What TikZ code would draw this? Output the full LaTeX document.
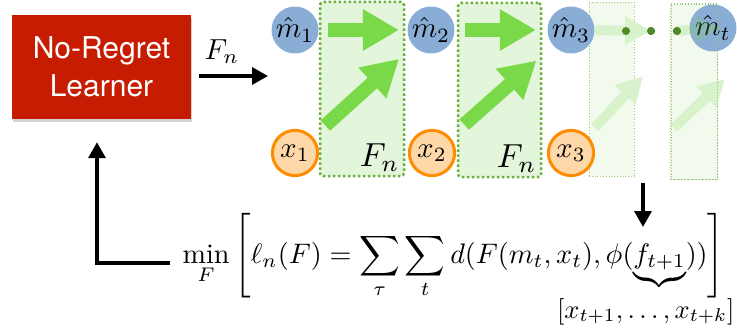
\documentclass[tikz,border=0pt]{standalone}
\usepackage{amsmath,amssymb}
\usepackage{fontspec}
\newfontfamily\learnerfont{TeX Gyre Heros}
\usepackage{xcolor}
\usepackage{tikz}
\usetikzlibrary{arrows.meta, positioning, shadows, calc}

\definecolor{learnerred}{RGB}{198,28,2}
\definecolor{estblue}{RGB}{138,173,214}
\definecolor{obsorange}{RGB}{255,140,0}
\definecolor{obsfill}{RGB}{254,216,168}
\definecolor{policygreen}{RGB}{122,217,72}
\definecolor{fadedgreen}{RGB}{216,242,203}
\definecolor{boxgreen}{RGB}{227,245,218}
\definecolor{bordergreen}{RGB}{106,176,60}
\definecolor{dotgreen}{RGB}{78,138,40}

\begin{document}
\begin{tikzpicture}[x=1pt, y=-1pt,
    learner/.style={fill=learnerred, rectangle, minimum width=179pt, minimum height=104pt, align=center, text=white, font=\learnerfont\fontsize{30}{38}\selectfont, drop shadow={shadow xshift=1pt, shadow yshift=-3pt, opacity=0.35}},
    est/.style={circle, fill=estblue, minimum size=16.2pt, inner sep=0pt, scale=2.9},
    obs/.style={circle, draw=obsorange, line width=3pt, fill=obsfill, minimum size=15.6pt, inner sep=0pt, scale=2.9},
    policy/.style={rectangle, rounded corners=3pt, fill=boxgreen, draw=bordergreen, line width=2.5pt, dash pattern=on 2.5pt off 2.5pt, minimum width=84pt, minimum height=174pt},
    ghost/.style={rectangle, fill=boxgreen, fill opacity=0.5, draw=bordergreen!70, line width=0.8pt, dotted, minimum width=45pt, minimum height=174pt},
    ghostborder/.style={draw=bordergreen!70, line width=0.8pt, dotted},
    fat/.style={draw=policygreen, line width=14pt, -{Triangle[length=36pt, width=39pt]}},
    faint/.style={draw=fadedgreen, line width=10pt, -{Triangle[length=26pt, width=27pt]}},
    blackarrow/.style={draw, line width=3.5pt, -{Triangle[length=16pt, width=17pt]}},
    ellipsisdot/.style={circle, fill=dotgreen, inner sep=0pt, minimum size=8pt},
    mathlabel/.style={scale=2.9, inner sep=0pt}
]
    \useasboundingbox (0,0) rectangle (737,329);

    % policy windows
    \node[ghost] (ghost3) at (611.5,89) {};
    \node[ghost, minimum width=46pt, minimum height=175pt] (ghost4) at (694,91.5) {};
    \node[policy] (pol1) at (362,89) {};
    \node[policy, minimum width=83pt] (pol2) at (499.5,90) {};

    \node[learner] (learner) at (101.5,67) {No-Regret\\Learner};

    % states and observations
    \node[est] (m1) at (295,30) {$\hat{m}_1$};
    \node[est] (m2) at (431,30) {$\hat{m}_2$};
    \node[est] (m3) at (571,30) {$\hat{m}_3$};
    \node[est] (mt) at (713,28) {$\hat{m}_t$};
    \node[obs] (x1) at (295,153) {$x_1$};
    \node[obs] (x2) at (432,153) {$x_2$};
    \node[obs] (x3) at (571,153) {$x_3$};

    \draw[fat, shorten <=9pt, shorten >=8pt] (m1) -- (m2);
    \draw[fat, shorten <=14pt, shorten >=19pt] (x1) -- (m2);
    \draw[fat, shorten <=10pt, shorten >=11pt] (m2) -- (m3);
    \draw[fat, shorten <=16pt, shorten >=22pt] (x2) -- (m3);

    \node[mathlabel, scale=1.15, anchor=south east] (fn1) at ([xshift=-5pt, yshift=5pt]pol1.south east) {$F_n$};
    \node[mathlabel, scale=1.15, anchor=south east] (fn2) at ([xshift=-5pt, yshift=5pt]pol2.south east) {$F_n$};

    % fading steps
    \node[ellipsisdot] (dot1) at (626,31) {};
    \node[ellipsisdot] (dot2) at (651,31) {};
    \node[ellipsisdot] (dot3) at (677,31) {};
    \coordinate (tip3) at (643,76);
    \coordinate (tail4) at (674,128);
    \coordinate (tip4) at (725,79);
    \draw[faint] (m3) -- (dot2.center);
    \draw[faint, shorten <=8pt] (x3) -- (tip3);
    \draw[faint, draw=policygreen, opacity=0.22, -{Triangle[length=26pt, width=27pt, line width=0pt]}, shorten >=-7pt] (dot3.center) -- (mt.center);
    \draw[faint] (tail4) -- (tip4);
    \draw[ghostborder] (ghost4.south west) rectangle (ghost4.north east);
    \node[ellipsisdot] at (dot1) {};
    \node[ellipsisdot] at (dot2) {};
    \node[ellipsisdot] at (dot3) {};

    % learner output
    \coordinate (fnTip) at (268,76);
    \draw[blackarrow, shorten <=8pt] (learner.east |- fnTip) -- (fnTip) node[mathlabel, pos=0.4, above=7pt] (fnOut) {$F_n$};

    % objective
    \node[anchor=base west, inner sep=0pt, scale=2.82] (objective) at (182,263) {$\displaystyle \min_F \left[\ell_n(F) = \sum_\tau \sum_t d(F(m_t,x_t),\phi(\underbrace{f_{t+1}}))\right]$};
    \node[anchor=base east, inner sep=0pt, scale=2.65] (window) at (735,318) {$[x_{t+1},\ldots,x_{t+k}]$};

    \coordinate (dropTop) at (643,183);
    \coordinate (dropTip) at (643,227);
    \draw[blackarrow] (dropTop) -- (dropTip);
    \draw[blackarrow] ([xshift=-12pt]objective.base west) -| ([xshift=-4.5pt, yshift=-23pt]learner.south);
\end{tikzpicture}
\end{document}
